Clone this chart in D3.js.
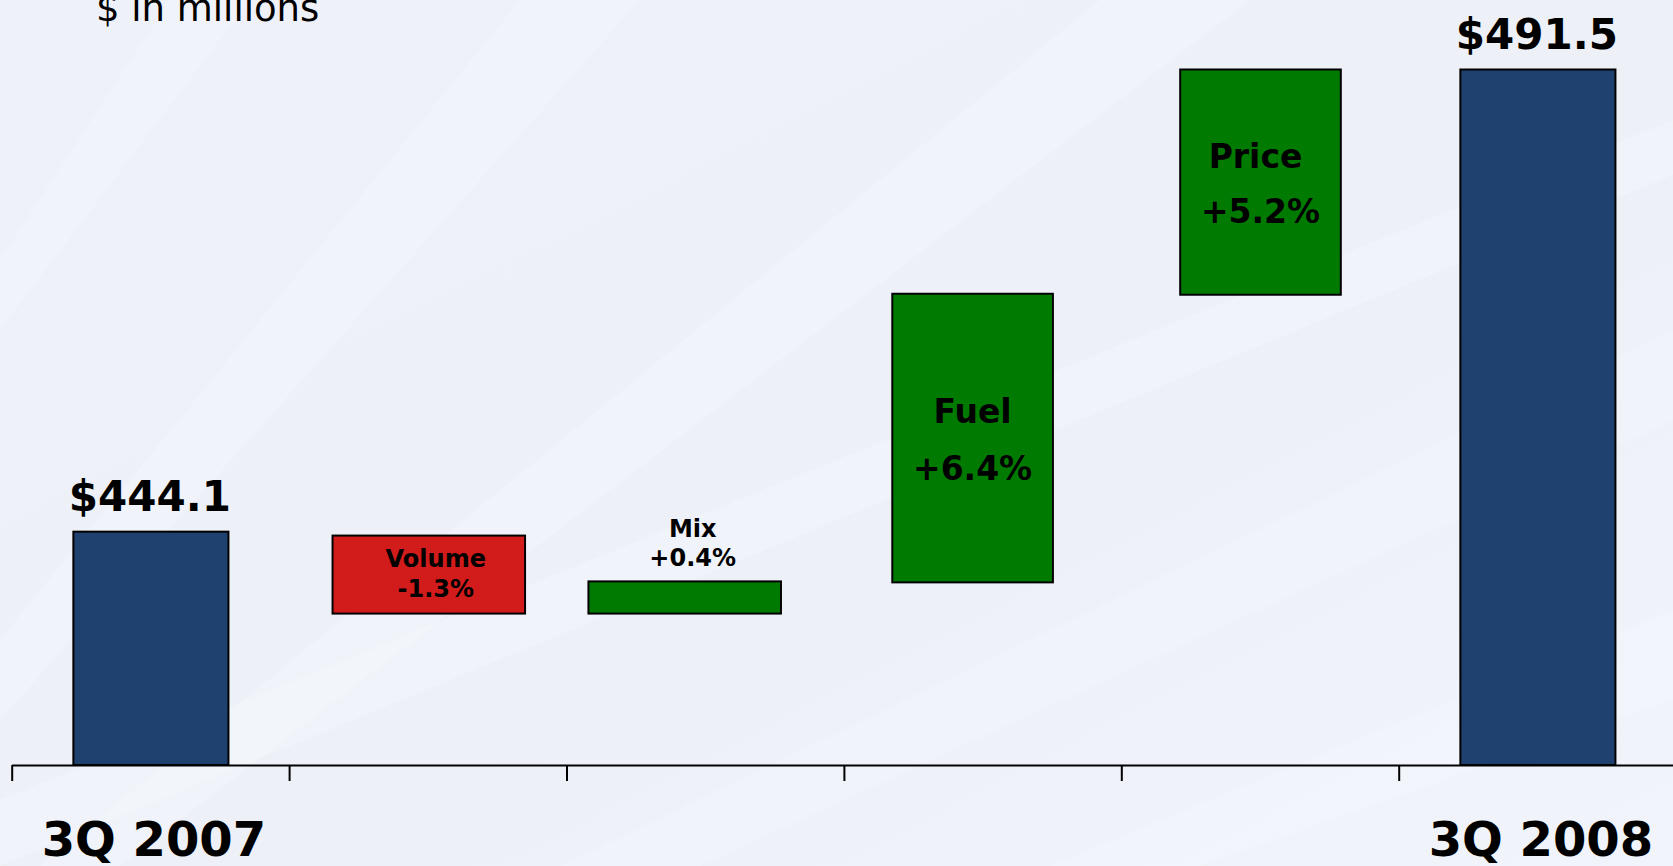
<!DOCTYPE html>
<html>
<head>
<meta charset="utf-8">
<script src="https://cdn.jsdelivr.net/npm/d3@7"></script>
<style>
  html, body { margin: 0; padding: 0; background: #eef1f8; overflow: hidden; }
  svg { display: block; }
  text { font-family: "DejaVu Sans", Verdana, sans-serif; fill: #000; }
</style>
</head>
<body>
<svg id="chart" width="1673" height="866"></svg>
<script>
// ---------- data ----------
const categories = ["3Q 2007", "Volume", "Mix", "Fuel", "Price", "3Q 2008"];
const axisLabels = ["3Q 2007", "", "", "", "", "3Q 2008"];
// totals (drawn from the axis floor)
const totalValues = [444.1, null, null, null, null, 491.5];
const totalLabels = ["$444.1", "", "", "", "", "$491.5"];
// floating step bars (low / high ends in $M)
const stepLow  = [null, 435.7, 435.7, 438.9, 468.4, null];
const stepHigh = [null, 443.7, 439.0, 468.5, 491.5, null];
const stepNames   = ["", "Volume", "Mix", "Fuel", "Price", ""];
const stepChanges = ["", "-1.3%", "+0.4%", "+6.4%", "+5.2%", ""];
const unitNote = "$ in millions";

// ---------- layout / style (not data) ----------
const W = 1673, H = 866;
const colors = { total: "#1f4170", up: "#017a01", down: "#d21b1b" };
const barWidthFrac = [0.559, 0.694, 0.694, 0.579, 0.579, 0.559];
const barShift     = [0.5, 1, -20.5, -10, 0.5, 0.5];
const stepLabelStyle = [
  null,
  { size: 24, x: [7, 7],  y: [566.7, 596.7] },
  { size: 24, x: [8, 8],  y: [536.7, 566] },
  { size: 33, x: [0, 0],  y: [422.5, 480] },
  { size: 33, x: [-5, 0], y: [167.5, 223] },
  null
];

const svg = d3.select("#chart");

// ---------- background ----------
const defs = svg.append("defs");
const bg = defs.append("linearGradient").attr("id", "bg")
  .attr("x1", "0").attr("y1", "0").attr("x2", "1").attr("y2", "1");
bg.append("stop").attr("offset", "0%").attr("stop-color", "#eef1f8");
bg.append("stop").attr("offset", "60%").attr("stop-color", "#edf0f7");
bg.append("stop").attr("offset", "100%").attr("stop-color", "#f1f4fb");
svg.append("rect").attr("width", W).attr("height", H).attr("fill", "url(#bg)");

const rays = [
  [[0, 330], [0, 260], [170, 0], [250, 0]],
  [[0, 720], [0, 640], [520, 0], [640, 0]],
  [[120, 866], [40, 866], [1100, 0], [1250, 0]],
  [[700, 866], [560, 866], [1673, 330], [1673, 420]],
  [[1200, 866], [1050, 866], [1673, 610], [1673, 700]],
  [[0, 866], [0, 800], [1673, 120], [1673, 175]]
];
svg.append("g").selectAll("path").data(rays).join("path")
  .attr("d", d => "M" + d.join("L") + "Z")
  .attr("fill", "#f5f7fd").attr("opacity", 0.4);

// ---------- scales ----------
const x = d3.scaleLinear().domain([0, categories.length]).range([11.7, 11.7 + 277.4 * categories.length]);
const bandW = x(1) - x(0);
const y = d3.scaleLinear().domain([420.17, 491.5]).range([765, 69.5]);
const floor = y.domain()[0];

const rows = categories.map((c, i) => {
  const isTotal = totalValues[i] != null;
  const lo = isTotal ? floor : stepLow[i];
  const hi = isTotal ? totalValues[i] : stepHigh[i];
  const cx = x(i) + bandW / 2 + barShift[i];
  const w = bandW * barWidthFrac[i];
  let color = colors.total;
  if (!isTotal) color = stepChanges[i].startsWith("-") ? colors.down : colors.up;
  return { i, c, lo, hi, cx, w, color, isTotal };
});

// ---------- bars ----------
svg.append("g").selectAll("rect").data(rows).join("rect")
  .attr("x", d => d.cx - d.w / 2)
  .attr("y", d => y(d.hi))
  .attr("width", d => d.w)
  .attr("height", d => y(d.lo) - y(d.hi))
  .attr("fill", d => d.color)
  .attr("stroke", "#000")
  .attr("stroke-width", 2);

// ---------- axis ----------
const axis = d3.axisBottom(x)
  .tickValues(d3.range(categories.length))
  .tickFormat("")
  .tickSizeInner(16)
  .tickSizeOuter(0);
const ax = svg.append("g").attr("transform", `translate(0,${y(floor)})`).call(axis);
ax.select(".domain").attr("stroke", "#000").attr("stroke-width", 2.2);
ax.selectAll(".tick line").attr("stroke", "#000").attr("stroke-width", 2);

svg.append("g").selectAll("text").data(rows.filter(d => axisLabels[d.i]))
  .join("text")
  .attr("x", d => d.cx + 3)
  .attr("y", 856)
  .attr("text-anchor", "middle")
  .attr("font-size", 48).attr("font-weight", "bold")
  .text(d => axisLabels[d.i]);

svg.append("g").selectAll("text").data(rows.filter(d => d.isTotal))
  .join("text")
  .attr("x", d => d.cx - 1)
  .attr("y", d => y(d.hi) - 21)
  .attr("text-anchor", "middle")
  .attr("font-size", 42).attr("font-weight", "bold")
  .text(d => totalLabels[d.i]);

const sg = svg.append("g");
rows.filter(d => !d.isTotal).forEach(d => {
  const st = stepLabelStyle[d.i];
  [stepNames[d.i], stepChanges[d.i]].forEach((t, k) => {
    sg.append("text")
      .attr("x", d.cx + st.x[k])
      .attr("y", st.y[k])
      .attr("text-anchor", "middle")
      .attr("font-size", st.size).attr("font-weight", "bold")
      .text(t);
  });
});

svg.append("text")
  .attr("x", 96).attr("y", 21)
  .attr("font-size", 37)
  .text(unitNote);
</script>
</body>
</html>
